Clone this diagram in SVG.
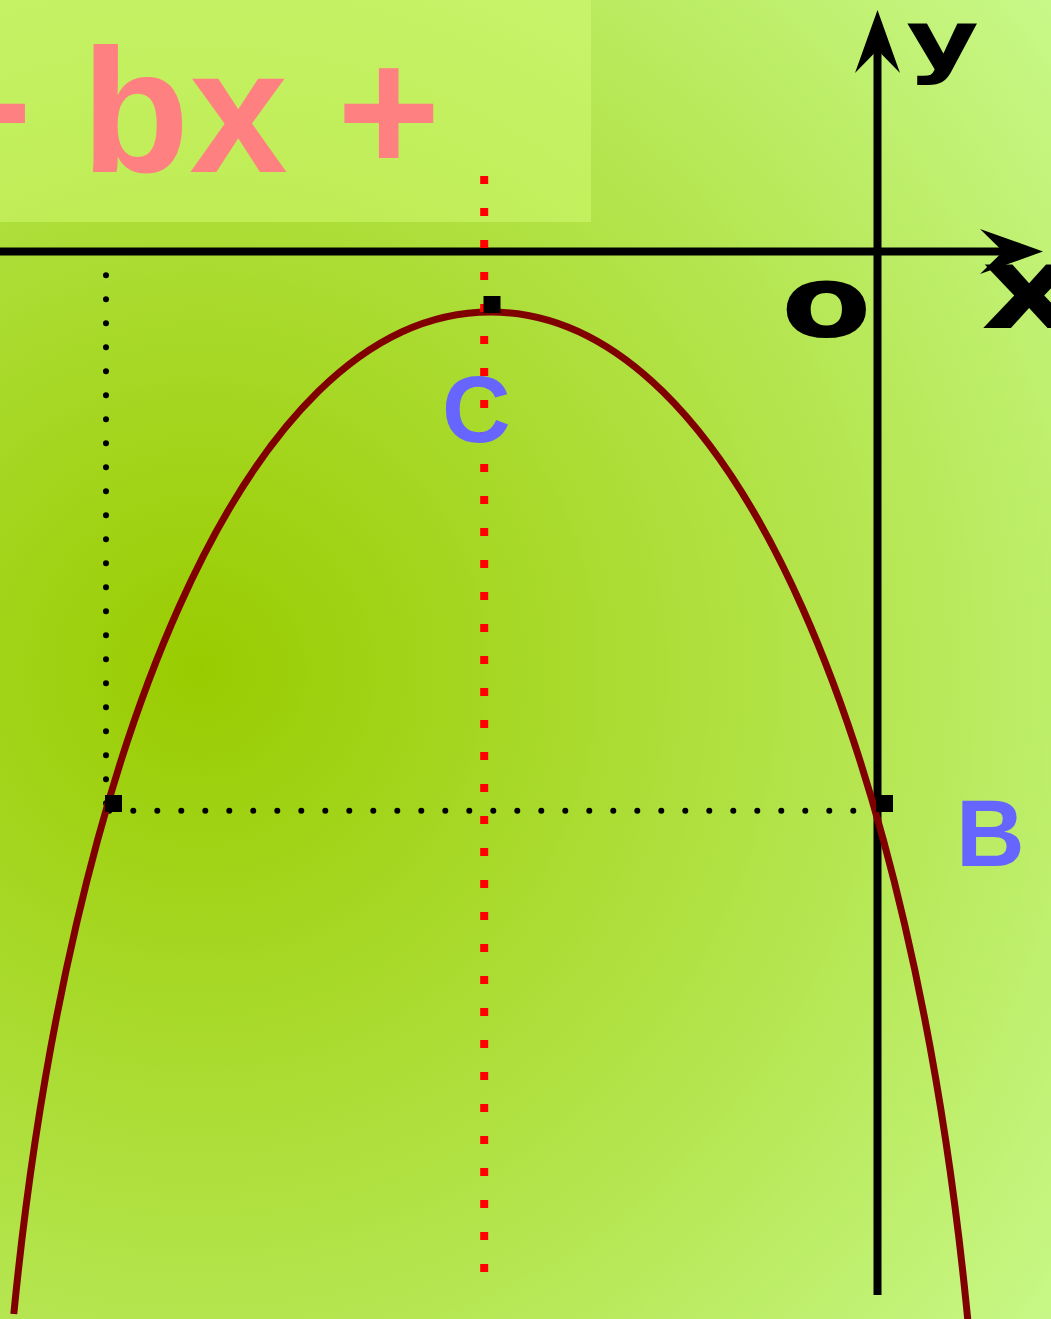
<svg xmlns="http://www.w3.org/2000/svg" xmlns:xlink="http://www.w3.org/1999/xlink" width="1051" height="1319" viewBox="0 0 1051 1319">
  <defs>
    <radialGradient id="bg" gradientUnits="userSpaceOnUse" cx="200" cy="670" r="1080">
      <stop offset="0" stop-color="#99cc00"/>
      <stop offset="0.6" stop-color="#b4e54e"/>
      <stop offset="1" stop-color="#c8f888"/>
    </radialGradient>
    <path id="arrowhead" d="M0,0 L-63,-22.5 L-40,0 L-63,22.5 Z" fill="#000"/>
  </defs>
  <style>
    .axis { stroke: #000; stroke-width: 8; fill: none; }
    .guide { stroke: #000; stroke-width: 6; stroke-linecap: round; stroke-dasharray: 0 24; fill: none; }
    .sym { stroke: #ff0000; stroke-width: 8; stroke-dasharray: 8 24; fill: none; }
    .curve { stroke: #800000; stroke-width: 7; fill: none; }
    .pt { fill: #000; }
    .lbl { font-family: "Liberation Sans", Arial, sans-serif; font-weight: bold; font-size: 95px; fill: #6666ff; }
    .axlbl { font-family: "DejaVu Sans", sans-serif; font-weight: bold; fill: #000; }
    .formula { font-family: "Liberation Sans", Arial, sans-serif; font-weight: bold; font-size: 177px; fill: #ff8080; }
  </style>

  <rect x="0" y="0" width="1051" height="1319" fill="url(#bg)"/>

  <g id="formula-box">
    <rect x="0" y="0" width="591" height="222" fill="#d6ff7a" opacity="0.45"/>
    <text class="formula" x="-71.3" y="172" xml:space="preserve">+ bx +</text>
  </g>

  <g id="guides">
    <line class="guide" x1="106" y1="275.3" x2="106" y2="804.5"/>
    <line class="guide" x1="109.3" y1="810.7" x2="854.5" y2="810.7"/>
  </g>

  <g id="connectors">
    <line id="x-axis" class="axis" x1="0" y1="251.5" x2="1010" y2="251.5"/>
    <use xlink:href="#arrowhead" transform="translate(1043,251.5)"/>
    <line id="y-axis" class="axis" x1="877.5" y1="1295" x2="877.5" y2="48"/>
    <use xlink:href="#arrowhead" transform="translate(877.5,10) rotate(-90)"/>
  </g>

  <g id="parabola">
    <path class="curve" d="M13.8,1314 L14.5,1307 C68.5,767 240.5,312 490.5,312 C740.5,312 912.5,767 966.5,1307 L968.8,1330"/>
  </g>

  <g id="axis-of-symmetry">
    <line class="sym" x1="484.2" y1="176" x2="484.2" y2="1272"/>
  </g>

  <g id="point-C">
    <rect class="pt" x="483.5" y="296" width="17" height="17"/>
    <text class="lbl" x="442" y="442">C</text>
  </g>
  <g id="point-A">
    <rect class="pt" x="105" y="795" width="17" height="17"/>
  </g>
  <g id="point-B">
    <rect class="pt" x="876" y="795" width="17" height="17"/>
    <text class="lbl" x="956" y="866">B</text>
  </g>

  <g id="label-y">
    <text class="axlbl" font-size="80" transform="translate(906,68) scale(1.4,1)">y</text>
  </g>
  <g id="label-x">
    <text class="axlbl" font-size="115" transform="translate(981,328) scale(1.3,1)">x</text>
  </g>
  <g id="label-o">
    <text class="axlbl" font-size="100" transform="translate(781,337) scale(1.32,1)">o</text>
  </g>
</svg>
